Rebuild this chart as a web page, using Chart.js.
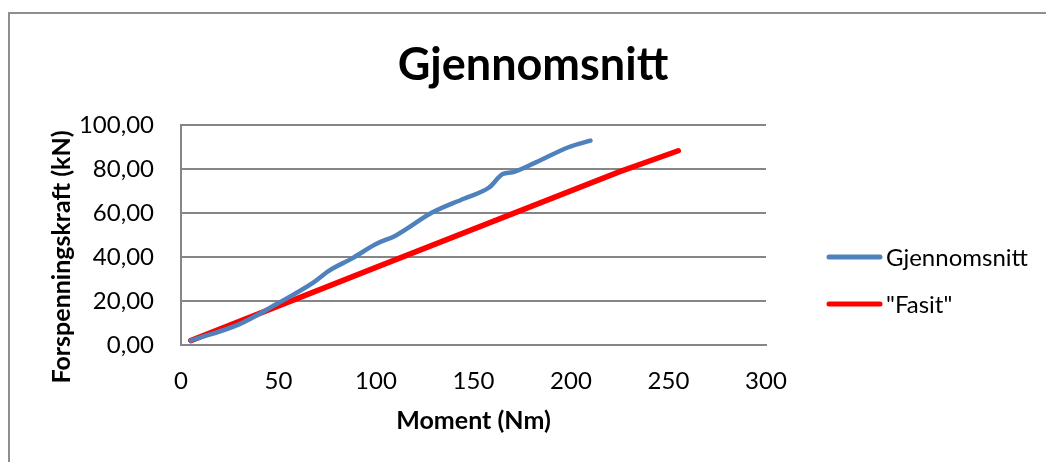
<!DOCTYPE html>
<html>
<head>
<meta charset="utf-8">
<script src="https://cdn.jsdelivr.net/npm/chart.js@4"></script>
<style>
    html, body { margin: 0; padding: 0; background: #fff; }
    #wrap { position: relative; width: 1046px; height: 462px; overflow: hidden; }
    #frame { position: absolute; left: 8px; top: 12px; width: 2000px; height: 2000px;
             border-left: 2px solid #8e8e8e; border-top: 2px solid #8e8e8e; }
    canvas { position: absolute; left: 0; top: 0; }
</style>
</head>
<body>
<div id="wrap">
    <div id="frame"></div>
    <canvas id="lineChart" width="1046" height="462"></canvas>
</div>
<script>
// data
var MomentAvg = [5, 30, 49, 68, 76, 88, 100, 110, 129, 145, 158, 165, 170, 182, 199, 210]
var ForceAvg = [2, 9.5, 18.6, 28.5, 33.8, 39.5, 45.9, 49.7, 60.3, 66.5, 71.6, 77.7, 78.5, 83, 90, 92.9]

var MomentFasit = [5, 100, 225, 255]
var ForceFasit = [2, 35.3, 78.8, 88.3]

var XTicks = [0, 50, 100, 150, 200, 250, 300]
var YTicks = [0, 20, 40, 60, 80, 100]

var FONT = 'Lato, "Noto Sans", sans-serif'

function toPoints(xs, ys) {
    var pts = []
    for (let i = 0; i < xs.length; i++) {
        pts.push({x: xs[i], y: ys[i]})
    }
    return pts
}

// legend + y title drawn by hand (Excel puts them off-centre)
const sideBits = {
    id: 'sideBits',
    afterDraw(chart) {
        const ctx = chart.ctx
        const rows = [257, 304]
        ctx.save()
        chart.data.datasets.forEach((ds, i) => {
            ctx.strokeStyle = ds.borderColor
            ctx.lineWidth = 5
            ctx.lineCap = 'round'
            ctx.beginPath()
            ctx.moveTo(829, rows[i])
            ctx.lineTo(880, rows[i])
            ctx.stroke()
            ctx.fillStyle = '#000'
            ctx.font = '24px ' + FONT
            ctx.textBaseline = 'middle'
            ctx.textAlign = 'left'
            ctx.fillText(ds.label, 886, rows[i] + 1)
        })
        ctx.translate(62, 257)
        ctx.rotate(-Math.PI / 2)
        ctx.font = 'bold 25px ' + FONT
        ctx.textAlign = 'center'
        ctx.textBaseline = 'middle'
        ctx.fillText('Forspenningskraft (kN)', 0, 0)
        ctx.restore()
    }
}

function LineChart() {
    const AvgDataSet = {
        label: 'Gjennomsnitt',
        data: toPoints(MomentAvg, ForceAvg),
        borderColor: '#4f81bd',
        borderWidth: 4.5,
        pointRadius: 0,
        fill: false,
        cubicInterpolationMode: 'monotone',
        borderCapStyle: 'round'
    }
    const FasitDataSet = {
        label: '"Fasit"',
        data: toPoints(MomentFasit, ForceFasit),
        borderColor: '#ff0000',
        borderWidth: 5.5,
        pointRadius: 0,
        fill: false,
        tension: 0,
        borderCapStyle: 'round'
    }

    var ctxLine = document.getElementById('lineChart').getContext('2d')
    var lineChart = new Chart(ctxLine, {
        type: 'line',
        data: {
            datasets: [AvgDataSet, FasitDataSet]
        },
        options: {
            responsive: false,
            animation: false,
            devicePixelRatio: 1,
            layout: { padding: { left: 20, right: 0, top: 0, bottom: 0 } },
            plugins: {
                legend: { display: false },
                tooltip: { enabled: false },
                title: {
                    display: true,
                    text: 'Gjennomsnitt',
                    color: '#000',
                    font: { family: FONT, size: 45, weight: 'bold' },
                    padding: { top: 38, bottom: 33 }
                }
            },
            scales: {
                x: {
                    type: 'linear',
                    min: 0,
                    max: 300,
                    afterBuildTicks: s => { s.ticks = XTicks.map(v => ({value: v})) },
                    afterFit: s => { s.height = 117 },
                    grid: { display: false, drawTicks: false },
                    border: { display: true, color: '#868686', width: 2 },
                    ticks: { color: '#000', padding: 22, font: { family: FONT, size: 24 } },
                    title: {
                        display: true,
                        text: 'Moment (Nm)',
                        color: '#000',
                        font: { family: FONT, size: 25, weight: 'bold' },
                        padding: { top: 0, bottom: 26 }
                    }
                },
                y: {
                    min: 0,
                    max: 100,
                    afterBuildTicks: s => { s.ticks = YTicks.map(v => ({value: v})) },
                    afterFit: s => { s.width = 161 },
                    grid: { color: '#868686', lineWidth: 2, drawTicks: false },
                    border: { display: true, color: '#868686', width: 2 },
                    ticks: {
                        color: '#000',
                        padding: 27,
                        font: { family: FONT, size: 24 },
                        callback: v => v.toFixed(2).replace('.', ',')
                    }
                },
                // empty right-hand box that leaves room for the legend
                side: {
                    type: 'linear',
                    position: 'right',
                    min: 0,
                    max: 1,
                    afterFit: s => { s.width = 280 },
                    grid: { display: false, drawTicks: false },
                    border: { display: false },
                    ticks: { display: false }
                }
            }
        },
        plugins: [sideBits]
    })
}

document.addEventListener('DOMContentLoaded', LineChart)
</script>
</body>
</html>
